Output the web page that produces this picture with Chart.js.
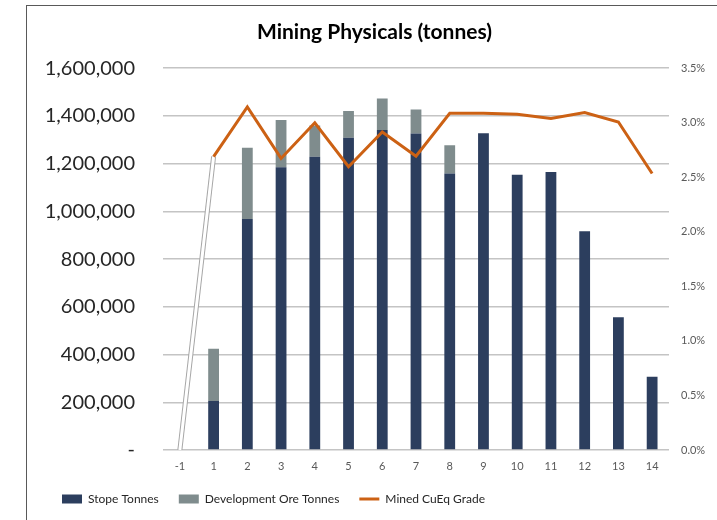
<!DOCTYPE html>
<html>
<head>
<meta charset="utf-8">
<script src="https://cdn.jsdelivr.net/npm/chart.js@4.4.1/dist/chart.umd.min.js"></script>
<style>
    body { margin: 0; background: #fff; overflow: hidden; }
    #frame {
        position: absolute; left: 26px; top: 5px;
        width: 691px; height: 515px;
        border-left: 1px solid #595959; border-top: 1px solid #595959;
    }
</style>
</head>
<body>
<div id="frame"><canvas id="chartMining"></canvas></div>
<script>
const years = ['-1', '1', '2', '3', '4', '5', '6', '7', '8', '9', '10', '11', '12', '13', '14'];
const stopeTonnes = [0, 205000, 968000, 1185000, 1229000, 1309000, 1341000, 1326000, 1159000, 1327000, 1154000, 1165000, 917000, 556000, 307000];
const devOreTonnes = [0, 219000, 299000, 198000, 131000, 112000, 132000, 101000, 118000, 0, 0, 0, 0, 0, 0];
const cuEqGrade = [0, 2.69, 3.145, 2.673, 3.0, 2.597, 2.915, 2.694, 3.087, 3.087, 3.077, 3.038, 3.093, 3.007, 2.535];
// first segment (from year -1) is drawn as a hollow white line
const rampOutline = [0, 2.69, null, null, null, null, null, null, null, null, null, null, null, null, null];

const orange = '#cc6114';
const fontFamily = 'Lato, "Open Sans", sans-serif';

const config = {
    type: 'bar',
    data: {
        labels: years,
        datasets: [
            {
                label: 'Stope Tonnes',
                data: stopeTonnes,
                backgroundColor: '#2c3e5e',
                borderWidth: 0,
                pointStyle: 'rect',
                yAxisID: 'y',
                order: 2,
            },
            {
                label: 'Development Ore Tonnes',
                data: devOreTonnes,
                backgroundColor: '#7f8c8d',
                borderWidth: 0,
                pointStyle: 'rect',
                yAxisID: 'y',
                order: 2,
            },
            {
                type: 'line',
                label: 'Mined CuEq Grade',
                data: cuEqGrade,
                borderColor: orange,
                backgroundColor: orange,
                borderWidth: 3,
                pointRadius: 0,
                pointStyle: 'line',
                tension: 0,
                yAxisID: 'y1',
                order: 0,
                segment: {
                    borderColor: ctx => ctx.p0DataIndex === 0 ? '#ffffff' : orange,
                },
            },
            {
                type: 'line',
                label: 'outline',
                data: rampOutline,
                borderColor: '#a6a6a6',
                borderWidth: 5,
                pointRadius: 0,
                yAxisID: 'y1',
                order: 1,
            },
        ]
    },
    options: {
        responsive: true,
        maintainAspectRatio: false,
        animation: false,
        layout: {
            padding: { left: 15, right: 11, top: 0, bottom: 6 }
        },
        datasets: {
            bar: {
                categoryPercentage: 1,
                barPercentage: 0.32,
            }
        },
        plugins: {
            title: {
                display: true,
                text: 'Mining Physicals (tonnes)',
                color: '#000',
                font: { family: fontFamily, size: 21, weight: 'bold' },
                padding: { top: 14, bottom: 23 },
            },
            legend: {
                position: 'bottom',
                align: 'start',
                labels: {
                    usePointStyle: true,
                    pointStyleWidth: 20,
                    boxHeight: 9,
                    padding: 20,
                    color: '#262626',
                    font: { family: fontFamily, size: 12 },
                    filter: item => item.text !== 'outline',
                    sort: (a, b) => a.datasetIndex - b.datasetIndex,
                }
            },
            tooltip: { enabled: false },
        },
        scales: {
            x: {
                stacked: true,
                grid: { display: false, drawTicks: false },
                border: { display: false },
                afterFit: scale => { scale.height = 23; },
                ticks: {
                    color: '#595959',
                    font: { family: fontFamily, size: 11 },
                    padding: 10,
                },
            },
            y: {
                stacked: true,
                position: 'left',
                min: 0,
                max: 1600000,
                border: { display: false },
                grid: { color: '#c4c4c4', lineWidth: 1.5, drawTicks: false },
                afterFit: scale => { scale.width = 121; },
                ticks: {
                    stepSize: 200000,
                    color: '#262626',
                    padding: 28,
                    font: { family: fontFamily, size: 20 },
                    callback: v => v === 0 ? '-' : v.toLocaleString('en-US'),
                },
            },
            y1: {
                position: 'right',
                min: 0,
                max: 3.5,
                border: { display: false },
                grid: { display: false, drawTicks: false },
                afterFit: scale => { scale.width = 38; },
                ticks: {
                    stepSize: 0.5,
                    color: '#595959',
                    padding: 12,
                    font: { family: fontFamily, size: 11 },
                    callback: v => v.toFixed(1) + '%',
                },
            },
        }
    }
};

const myChart = new Chart(document.getElementById('chartMining'), config);
</script>
</body>
</html>
